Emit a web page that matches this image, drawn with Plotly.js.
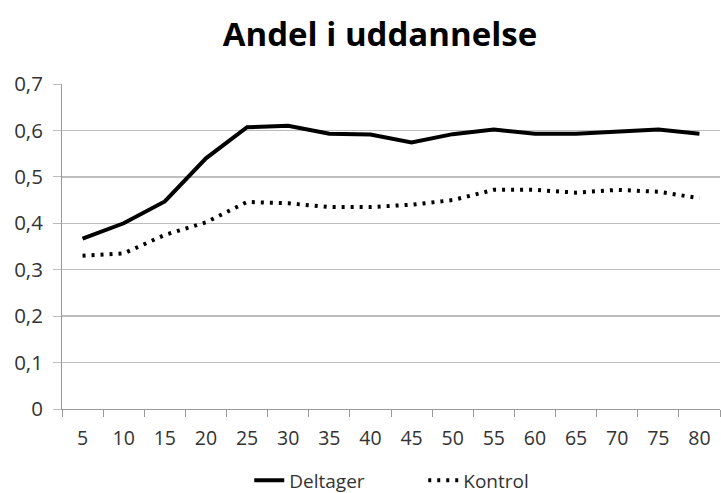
<!DOCTYPE html>
<html><head><meta charset="utf-8">
<script src="https://cdn.plot.ly/plotly-3.0.1.min.js"></script>
<style>html,body{margin:0;padding:0;background:#fff}#chart{width:721px;height:493px}</style>
</head><body><div id="chart"></div>
<script>
const categories = ["5","10","15","20","25","30","35","40","45","50","55","60","65","70","75","80"];
const deltager = [0.367,0.400,0.447,0.540,0.607,0.610,0.593,0.591,0.574,0.592,0.602,0.593,0.593,0.597,0.602,0.593];
const kontrol  = [0.330,0.335,0.375,0.402,0.446,0.443,0.435,0.435,0.440,0.450,0.472,0.472,0.466,0.472,0.468,0.454];
const seriesNames = ["Deltager","Kontrol"];

const font = "'Open Sans', sans-serif";
const traces = [
  {x: categories, y: deltager, name: seriesNames[0], type: "scatter", mode: "lines",
   line: {color: "#000", width: 4}},
  {x: categories, y: kontrol, name: seriesNames[1], type: "scatter", mode: "lines",
   line: {color: "#000", width: 4, dash: "3px,6px"}}
];
const layout = {
  width: 721, height: 493,
  margin: {l: 62, r: 1, t: 84, b: 84, autoexpand: false},
  paper_bgcolor: "#fff", plot_bgcolor: "#fff",
  separators: ", ",
  font: {family: font, size: 19, color: "#333"},
  title: {text: "<b>Andel i uddannelse</b>", x: 0.527, xanchor: "center", y: 0.93, yanchor: "middle",
          font: {family: font, size: 33, color: "#000"}},
  xaxis: {type: "category", range: [-0.5, 15.5], tickson: "boundaries",
          ticks: "outside", ticklen: 7, tickcolor: "#999", showline: true, linecolor: "#999",
          showgrid: false, zeroline: false, ticklabelstandoff: 12, fixedrange: true,
          tickfont: {family: font, size: 19.5, color: "#333"}},
  yaxis: {range: [0, 0.7], dtick: 0.1, tick0: 0, ticks: "outside", ticklen: 8, tickcolor: "#bdbdbd",
          showline: true, linecolor: "#999", gridcolor: "#bdbdbd", gridwidth: 1.3, zeroline: false,
          ticklabelstandoff: 6, tickfont: {family: font, size: 20.5, color: "#333"}},
  showlegend: true,
  legend: {orientation: "h", x: 0.549, xanchor: "center", y: -0.22, yanchor: "middle",
           font: {family: font, size: 19, color: "#333"}, entrywidth: 129, entrywidthmode: "pixels"}
};
Plotly.newPlot("chart", traces, layout, {displayModeBar: false, staticPlot: true});
</script></body></html>
